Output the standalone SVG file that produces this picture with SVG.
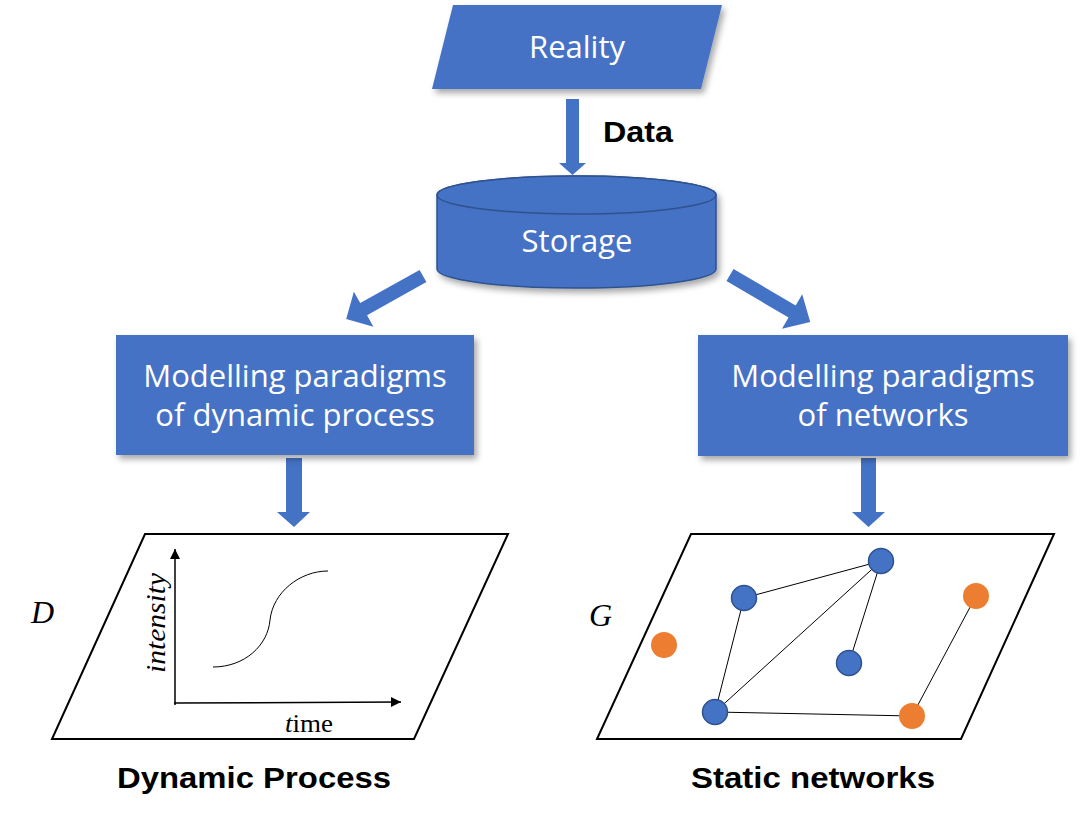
<svg xmlns="http://www.w3.org/2000/svg" width="1081" height="817" viewBox="0 0 1081 817">
<defs>
<filter id="sh" x="-10%" y="-10%" width="130%" height="140%">
<feDropShadow dx="3" dy="4" stdDeviation="3" flood-color="#000" flood-opacity="0.35"/>
</filter>
<marker id="ah" viewBox="0 0 10 10" refX="10" refY="5" markerWidth="10" markerHeight="10" markerUnits="userSpaceOnUse" orient="auto">
<path d="M0,0 L10,5 L0,10 z" fill="#000"/>
</marker>
<style>
.blue{fill:#4472C4;}
.wt{fill:#fff;font-family:"Open Sans","Liberation Sans",sans-serif;font-size:31px;text-anchor:middle;}
.bt{fill:#000;font-family:"Liberation Sans",Arial,sans-serif;font-weight:bold;font-size:29px;text-anchor:middle;}
.plane{fill:#fff;stroke:#000;stroke-width:2;}
.math{font-family:"Liberation Serif","DejaVu Serif",serif;fill:#000;}
.edge{stroke:#000;stroke-width:1;fill:none;}
.nb{fill:#4472C4;stroke:#2F528F;stroke-width:1.5;}
.no{fill:#ED7D31;}
.arr{fill:#4472C4;}
</style>
</defs>
<rect width="1081" height="817" fill="#fff"/>

<g id="connectors">
<polygon class="arr" points="566,99 579,99 579,163 586,163 572.5,175 559,163 566,163"/>
<polygon class="arr" transform="translate(423,276) rotate(150.8)" points="0,-7 68,-7 68,-20 88,0 68,20 68,7 0,7"/>
<polygon class="arr" transform="translate(730,275) rotate(30.4)" points="0,-7 72,-7 72,-20 93,0 72,20 72,7 0,7"/>
<polygon class="arr" points="286,458 302,458 302,512 310,512 294,527 277,512 286,512"/>
<polygon class="arr" points="861,458 876,458 876,512 885,512 868.5,527 852,512 861,512"/>
</g>

<g id="reality">
<polygon class="blue" filter="url(#sh)" points="453,5 722,5 701,89 432,89"/>
<text class="wt" x="577" y="58">Reality</text>
</g>

<g id="data-label">
<text class="bt" x="638" y="142" textLength="70" lengthAdjust="spacingAndGlyphs">Data</text>
</g>

<g id="storage">
<path class="blue" filter="url(#sh)" stroke="#2F528F" stroke-width="1.5" d="M437,195 L437,269 A139.5,19 0 0 0 716,269 L716,195 A139.5,19 0 0 0 437,195 Z"/>
<ellipse class="blue" stroke="#2F528F" stroke-width="1.5" cx="576.5" cy="195" rx="139.5" ry="19"/>
<text class="wt" x="577" y="252">Storage</text>
</g>

<g id="model-dynamic">
<rect class="blue" filter="url(#sh)" x="116" y="335" width="358" height="120"/>
<text class="wt" x="295" y="387">Modelling paradigms</text>
<text class="wt" x="295" y="426">of dynamic process</text>
</g>

<g id="model-networks">
<rect class="blue" filter="url(#sh)" x="698" y="335" width="370" height="121"/>
<text class="wt" x="883" y="387">Modelling paradigms</text>
<text class="wt" x="883" y="426">of networks</text>
</g>

<g id="dynamic-process">
<polygon class="plane" points="145,534 508,534 414,739 52,739"/>
<line x1="175" y1="705" x2="175" y2="549" stroke="#000" stroke-width="1.5" marker-end="url(#ah)"/>
<line x1="174" y1="703" x2="401" y2="702" stroke="#000" stroke-width="1.5" marker-end="url(#ah)"/>
<path class="edge" d="M213,667 C245,667 268,645 270,620 C273,592 300,571 328,571"/>
<text class="math" font-style="italic" font-size="27" transform="translate(165,673) rotate(-90)" textLength="100" lengthAdjust="spacingAndGlyphs">intensity</text>
<text class="math" font-size="26" x="285" y="732" textLength="48" lengthAdjust="spacingAndGlyphs"><tspan font-style="italic">t</tspan>ime</text>
<text class="math" font-style="italic" font-size="32" x="31" y="623">D</text>
<text class="bt" x="254" y="788" textLength="274" lengthAdjust="spacingAndGlyphs">Dynamic Process</text>
</g>

<g id="static-networks">
<polygon class="plane" points="691,534 1054,534 961,739 597,739"/>
<g id="edges">
<line class="edge" x1="744" y1="598" x2="881" y2="561"/>
<line class="edge" x1="881" y1="561" x2="715" y2="712"/>
<line class="edge" x1="881" y1="561" x2="849" y2="663"/>
<line class="edge" x1="744" y1="598" x2="715" y2="712"/>
<line class="edge" x1="715" y1="712" x2="912" y2="716"/>
<line class="edge" x1="976" y1="596" x2="912" y2="716"/>
</g>
<circle id="n1" class="nb" cx="881" cy="561" r="12.5"/>
<circle id="n2" class="nb" cx="744" cy="598" r="12.5"/>
<circle id="n3" class="nb" cx="849" cy="663" r="12.5"/>
<circle id="n4" class="nb" cx="715" cy="712" r="12.5"/>
<circle id="n5" class="no" cx="976" cy="596" r="13"/>
<circle id="n6" class="no" cx="664" cy="645" r="13"/>
<circle id="n7" class="no" cx="912" cy="716" r="13"/>
<text class="math" font-style="italic" font-size="32" x="589" y="626">G</text>
<text class="bt" x="813" y="788" textLength="244" lengthAdjust="spacingAndGlyphs">Static networks</text>
</g>
</svg>
